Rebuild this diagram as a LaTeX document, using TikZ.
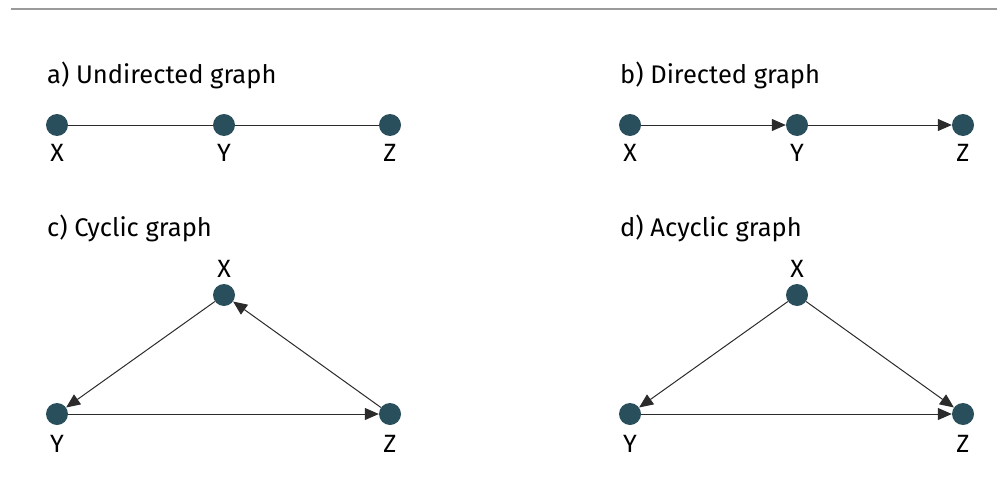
\documentclass[tikz,border=0pt]{standalone}
\usepackage{fontspec}
\setmainfont{Fira Sans}
\usetikzlibrary{arrows.meta}
\definecolor{nodecol}{HTML}{2A4F5C}
\definecolor{edgecol}{HTML}{2B2B2B}
\definecolor{rulecol}{HTML}{9A9A9A}
\begin{document}
\begin{tikzpicture}[x=1pt,y=-1pt,
  vtx/.style={circle,fill=nodecol,minimum size=22pt,inner sep=0pt},
  ttl/.style={anchor=base west,inner sep=0pt,font=\fontsize{25.5}{30}\selectfont},
  lbl/.style={anchor=base,inner sep=0pt,font=\fontsize{25}{30}\selectfont},
  conn/.style={draw=edgecol,line width=1pt},
  arr/.style={conn,-{Triangle[length=14pt,width=12pt]}}]
\useasboundingbox (0,0) rectangle (998,503);
\draw[rulecol,line width=1.3pt] (11,9) -- (997,9);
% a) undirected
\node[ttl] (ta) at (47,83) {a) Undirected graph};
\node[vtx] (aX) at (57,125) {};
\node[vtx] (aY) at (224,125) {};
\node[vtx] (aZ) at (390,125) {};
\node[lbl] (laX) at (57,161) {X};
\node[lbl] (laY) at (224,161) {Y};
\node[lbl] (laZ) at (390,161) {Z};
\draw[conn] (aX) -- (aY);
\draw[conn] (aY) -- (aZ);
% b) directed
\node[ttl] (tb) at (620,83) {b) Directed graph};
\node[vtx] (bX) at (630,125) {};
\node[vtx] (bY) at (797,125) {};
\node[vtx] (bZ) at (963,125) {};
\node[lbl] (lbX) at (630,161) {X};
\node[lbl] (lbY) at (797,161) {Y};
\node[lbl] (lbZ) at (963,161) {Z};
\draw[arr] (bX) -- (bY);
\draw[arr] (bY) -- (bZ);
% c) cyclic
\node[ttl] (tc) at (47,236) {c) Cyclic graph};
\node[vtx] (cX) at (224,295) {};
\node[vtx] (cY) at (57,414) {};
\node[vtx] (cZ) at (390,414) {};
\node[lbl] (lcX) at (224,277) {X};
\node[lbl] (lcY) at (57,452) {Y};
\node[lbl] (lcZ) at (390,452) {Z};
\draw[arr] (cX) -- (cY);
\draw[arr] (cY) -- (cZ);
\draw[arr] (cZ) -- (cX);
% d) acyclic
\node[ttl] (td) at (620,236) {d) Acyclic graph};
\node[vtx] (dX) at (797,295) {};
\node[vtx] (dY) at (630,414) {};
\node[vtx] (dZ) at (963,414) {};
\node[lbl] (ldX) at (797,277) {X};
\node[lbl] (ldY) at (630,452) {Y};
\node[lbl] (ldZ) at (963,452) {Z};
\draw[arr] (dX) -- (dY);
\draw[arr] (dY) -- (dZ);
\draw[arr] (dX) -- (dZ);
\end{tikzpicture}
\end{document}
